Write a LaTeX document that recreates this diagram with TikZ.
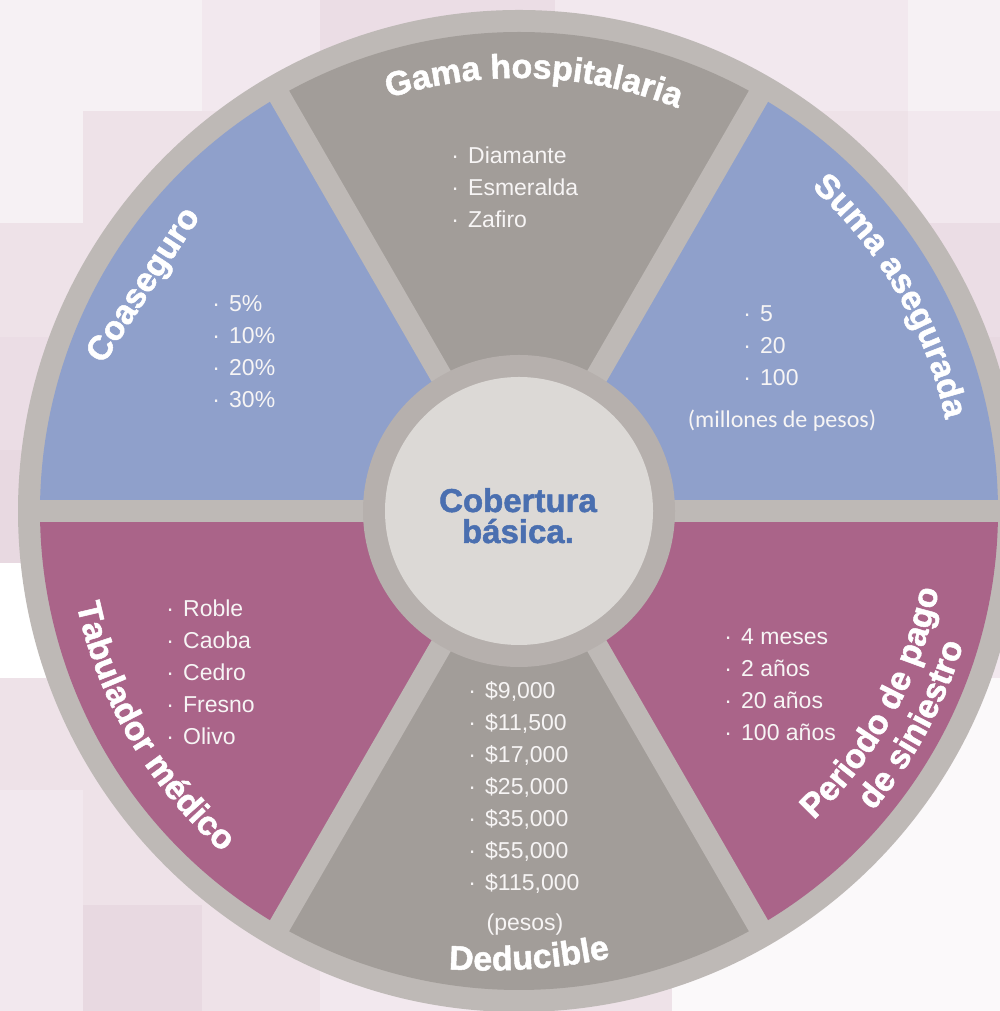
\documentclass[tikz,border=0pt]{standalone}
\usepackage{fontspec}
\setmainfont{Liberation Sans}
\newfontfamily\capfont{Carlito}
\newfontfamily\titlef{Liberation Sans Bold}[FakeBold=1.5]
\usetikzlibrary{decorations.text,calc}

\definecolor{ringc}{HTML}{BEB9B6}
\definecolor{innerring}{HTML}{B6B0AD}
\definecolor{centerc}{HTML}{DCD9D6}
\definecolor{secblue}{HTML}{8FA0CB}
\definecolor{secpink}{HTML}{AA6489}
\definecolor{secgray}{HTML}{A29D99}
\definecolor{titleblue}{HTML}{4A6FB0}
\definecolor{listc}{HTML}{F7F5F5}
\definecolor{bgA}{HTML}{F6F1F4}
\definecolor{bgB}{HTML}{F2E8EE}
\definecolor{bgC}{HTML}{EEE2E8}
\definecolor{bgD}{HTML}{EBDDE5}
\definecolor{bgE}{HTML}{E8D9E1}
\definecolor{bgW}{HTML}{FFFFFF}
\definecolor{bgN}{HTML}{FBF9FA}

\newcommand\bul{\makebox[26pt][c]{·}}
\newcommand\blist[1]{\vtop{\baselineskip=31.9pt\lineskiplimit=-100pt\halign{##\hfil\cr#1\crcr}}}
\newcommand\ctrstack[1]{\vtop{\baselineskip=31pt\lineskiplimit=-100pt\halign{\hfil##\hfil\cr#1\crcr}}}
\newcommand\tfont{\titlef\fontsize{34}{34}\selectfont}
\newcommand\lfont{\fontsize{23}{23}\selectfont}

\tikzset{
  listnode/.style={anchor=base west, inner sep=0pt, text=listc, font=\lfont},
  arctitle/.style={decorate, decoration={text along path, text={|\tfont|#1}, text align=center, text color=white}},
  gapline/.style={draw=ringc, line width=22pt},
}

\begin{document}
\begin{tikzpicture}[x=1pt, y=1pt]
\useasboundingbox (0,0) rectangle (1000,1011);

% background checker (pixel coordinates, y down)
\begin{scope}[shift={(0,1011)}, yscale=-1]
\foreach \xa/\xb in {0/83,83/202,202/320,320/438,438/555,555/672,672/790,790/908,908/1000}
  \foreach \ya/\yb in {0/111,111/223,223/337,337/450,450/563,563/678,678/790,790/905,905/1011}
    \fill[bgC] (\xa,\ya) rectangle (\xb,\yb);
% row 0
\fill[bgA] (0,0) rectangle (202,111);
\fill[bgB] (202,0) rectangle (320,111);
\fill[bgD] (320,0) rectangle (555,111);
\fill[bgB] (555,0) rectangle (908,111);
\fill[bgA] (908,0) rectangle (1000,111);
% row 1
\fill[bgA] (0,111) rectangle (83,223);
\fill[bgB] (908,111) rectangle (1000,223);
% rows 2-4
\fill[bgD] (908,223) rectangle (1000,337);
\fill[bgD] (0,337) rectangle (83,450);
\fill[bgE] (908,337) rectangle (1000,450);
\fill[bgE] (0,450) rectangle (83,563);
\fill[bgD] (908,450) rectangle (1000,563);
% row 5
\fill[bgW] (0,563) rectangle (83,678);
\fill[bgB] (908,563) rectangle (1000,678);
% rows 6-8
\fill[bgN] (790,678) rectangle (1000,790);
\fill[bgB] (0,790) rectangle (83,905);
\fill[bgN] (672,790) rectangle (1000,905);
\fill[bgB] (0,905) rectangle (83,1011);
\fill[bgE] (83,905) rectangle (202,1011);
\fill[bgB] (320,905) rectangle (555,1011);
\fill[bgN] (672,905) rectangle (1000,1011);
\end{scope}

\coordinate (C) at (519,500);

% wheel
\fill[ringc] (C) circle[radius=501];
\fill[secblue] (C) -- ++(0:479) arc[start angle=0, end angle=60, radius=479] -- cycle;
\fill[secgray] (C) -- ++(60:479) arc[start angle=60, end angle=120, radius=479] -- cycle;
\fill[secblue] (C) -- ++(120:479) arc[start angle=120, end angle=180, radius=479] -- cycle;
\fill[secpink] (C) -- ++(180:479) arc[start angle=180, end angle=240, radius=479] -- cycle;
\fill[secgray] (C) -- ++(240:479) arc[start angle=240, end angle=300, radius=479] -- cycle;
\fill[secpink] (C) -- ++(300:479) arc[start angle=300, end angle=360, radius=479] -- cycle;
\foreach \a in {0,60,...,300} \path[gapline] (C) -- ++(\a:492);
\fill[innerring] (C) circle[radius=156];
\fill[centerc] (C) circle[radius=134];

% centre title
\node[anchor=base, inner sep=0pt, text=titleblue, font=\titlef\fontsize{33}{33}\selectfont] (cob) at (518,499) {\ctrstack{Cobertura\cr básica.}};

% lists
\node[listnode] (lgama) at (442,847) {\blist{\bul Diamante\cr\bul Esmeralda\cr\bul Zafiro}};
\node[listnode] (lcoas) at (203,699) {\blist{\bul 5\%\cr\bul 10\%\cr\bul 20\%\cr\bul 30\%}};
\node[listnode] (lsuma) at (734,689) {\blist{\bul 5\cr\bul 20\cr\bul 100}};
\node[listnode] (ltab) at (157,394) {\blist{\bul Roble\cr\bul Caoba\cr\bul Cedro\cr\bul Fresno\cr\bul Olivo}};
\node[listnode] (lded) at (459,312) {\blist{\bul \$9,000\cr\bul \$11,500\cr\bul \$17,000\cr\bul \$25,000\cr\bul \$35,000\cr\bul \$55,000\cr\bul \$115,000}};
\node[listnode] (lper) at (715,366) {\blist{\bul 4 meses\cr\bul 2 años\cr\bul 20 años\cr\bul 100 años}};
\node[anchor=base, inner sep=0pt, text=listc, font=\capfont\fontsize{24}{24}\selectfont] (mill) at (782,583) {(millones de pesos)};
\node[anchor=base, inner sep=0pt, text=listc, font=\lfont] (pes) at (525,80) {(pesos)};

% sector titles
\path[arctitle={Gama hospitalaria}] ($(C)+(128:433)$) arc[start angle=128, end angle=48, radius=433];
\path[arctitle={Suma asegurada}] ($(C)+(70:436)$) arc[start angle=70, end angle=-10, radius=436];
\path[arctitle={Tabulador médico}] ($(C)+(170:452)$) arc[start angle=170, end angle=251, radius=452];
\path[arctitle={Periodo de pago}] ($(C)+(291.5:427)$) arc[start angle=291.5, end angle=371.5, radius=427];
\path[arctitle={de siniestro}] ($(C)+(291.5:464)$) arc[start angle=291.5, end angle=371.5, radius=464];
\path[arctitle={Deducible}] ($(488,640.5)+(240:600)$) arc[start angle=240, end angle=308, radius=600];
\node[rotate=56.7, inner sep=0pt, text=white, font=\tfont] (tcoas) at (145,725) {Coaseguro};
\end{tikzpicture}
\end{document}
